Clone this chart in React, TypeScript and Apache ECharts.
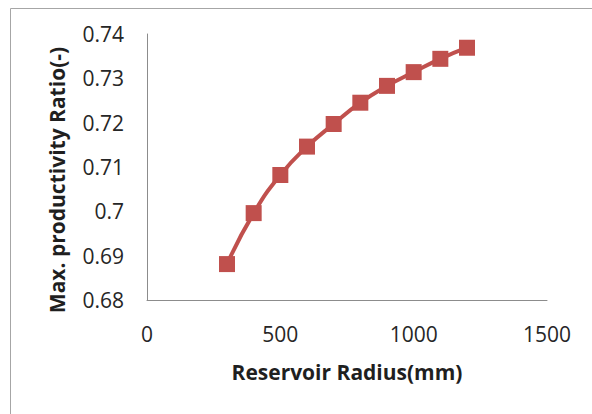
import React, { useEffect, useRef } from "react";
import * as echarts from "echarts";

const radius = [300, 400, 500, 600, 700, 800, 900, 1000, 1100, 1200];
const ratio = [0.6881, 0.6996, 0.7082, 0.7146, 0.7197, 0.7245, 0.7283, 0.7314, 0.7344, 0.7369];
const xTitle = "Reservoir Radius(mm)";
const yTitle = "Max. productivity Ratio(-)";

const FONT = "Open Sans";

export default function App() {
  const ref = useRef<HTMLDivElement>(null);
  useEffect(() => {
    const chart = echarts.init(ref.current!, undefined, { renderer: "svg" });
    chart.setOption({
      animation: false,
      backgroundColor: "#ffffff",
      graphic: [
        {
          type: "rect",
          shape: { x: 10.5, y: 8.5, width: 600, height: 420 },
          style: { fill: "none", stroke: "#a6a6a6", lineWidth: 1 },
          silent: true,
        },
        {
          type: "text",
          x: 57,
          y: 180,
          rotation: Math.PI / 2,
          style: {
            text: yTitle,
            fontFamily: FONT,
            fontSize: 21,
            fontWeight: "bold",
            fill: "#1f1f1f",
            align: "center",
            verticalAlign: "middle",
          },
          silent: true,
        },
      ],
      grid: { left: 147, right: 45, top: 34, bottom: 114, containLabel: false },
      xAxis: {
        type: "value",
        min: 0,
        max: 1500,
        interval: 500,
        name: xTitle,
        nameLocation: "middle",
        nameGap: 61,
        nameTextStyle: { fontFamily: FONT, fontSize: 21, fontWeight: "bold", color: "#1f1f1f" },
        axisLine: { show: true, lineStyle: { color: "#8c8c8c", width: 1 } },
        axisTick: { show: false },
        splitLine: { show: false },
        axisLabel: {
          fontFamily: FONT,
          fontSize: 21,
          color: "#262626",
          margin: 23,
          formatter: (v: number) => String(v),
        },
      },
      yAxis: {
        type: "value",
        min: 0.68,
        max: 0.74,
        interval: 0.01,
        axisLine: { show: true, lineStyle: { color: "#8c8c8c", width: 1 } },
        axisTick: { show: false },
        splitLine: { show: false },
        axisLabel: {
          fontFamily: FONT,
          fontSize: 21,
          color: "#262626",
          margin: 23,
          formatter: (v: number) => String(Number(v.toFixed(2))),
        },
      },
      series: [
        {
          type: "line",
          data: radius.map((r, i) => [r, ratio[i]]),
          smooth: true,
          symbol: "rect",
          symbolSize: 16,
          lineStyle: { color: "#C0504D", width: 4 },
          itemStyle: { color: "#C0504D" },
        },
      ],
    });
    return () => chart.dispose();
  }, []);
  return (
    <div
      ref={ref}
      style={{ position: "absolute", left: 0, top: 0, width: 592, height: 414 }}
    />
  );
}
